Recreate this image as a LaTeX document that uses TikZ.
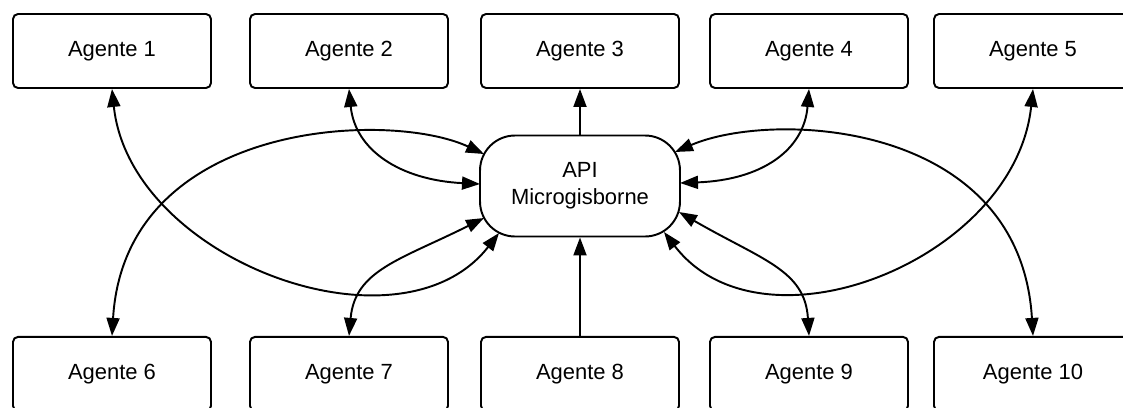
\documentclass[tikz,border=0pt]{standalone}
\usepackage{fontspec}
\setmainfont{Liberation Sans}
\usepackage{tikz}
\usetikzlibrary{arrows.meta, positioning}

\begin{document}
\begin{tikzpicture}[
    x=0.02cm, y=-0.02cm,
    node distance=4.94cm,
    every node/.style={font=\fontsize{12.5}{15.5}\selectfont},
    agent/.style={draw, line width=1.1pt, rounded corners=0.1cm, minimum width=3.96cm, minimum height=1.48cm, inner sep=0pt},
    api/.style={draw, line width=1.1pt, rounded corners=0.7cm, minimum width=4cm, minimum height=2.02cm, align=center, inner sep=0pt},
    arr/.style={-{Triangle[length=0.36cm, width=0.26cm]}, line width=1.1pt},
    darr/.style={{Triangle[length=0.36cm, width=0.26cm]}-{Triangle[length=0.36cm, width=0.26cm]}, line width=1.1pt}
]
\useasboundingbox (0,0) rectangle (1123,407);

\node[agent] (a1) at (112,51) {Agente 1};
\node[agent] (a2) at (349,51) {Agente 2};
\node[agent] (a3) at (580,51) {Agente 3};
\node[agent] (a4) at (809,51) {Agente 4};
\node[agent] (a5) at (1033,51) {Agente 5};
\node[agent, below=of a1] (a6) {Agente 6};
\node[agent, below=of a2] (a7) {Agente 7};
\node[agent, below=of a3] (a8) {Agente 8};
\node[agent, below=of a4] (a9) {Agente 9};
\node[agent, below=of a5] (a10) {Agente 10};
\node[api] (api) at (580,186) {API\\Microgisborne};

\draw[arr] (api) -- (a3);
\draw[arr] (a8) -- (api);

% left side
\draw[darr] (a1.south) .. controls (130,260) and (400,360) .. ([shift={(-81,47)}]api.center);
\draw[darr] (a6.north) .. controls (125,120) and (390,110) .. ([shift={(-96,-32)}]api.center);
\draw[darr] (a2.south) .. controls (355,150) and (400,180) .. ([shift={(-100,-2)}]api.center);
\draw[darr] (a7.north) .. controls (355,270) and (400,260) .. ([shift={(-96,32)}]api.center);

% right side
\draw[darr] (a5.south) .. controls (1015,260) and (762,360) .. ([shift={(84,46)}]api.center);
\draw[darr] (a10.north) .. controls (1020,120) and (772,110) .. ([shift={(95,-34)}]api.center);
\draw[darr] (a4.south) .. controls (804,150) and (762,180) .. ([shift={(100,-3)}]api.center);
\draw[darr] (a9.north) .. controls (805,270) and (762,260) .. ([shift={(99,26)}]api.center);
\end{tikzpicture}
\end{document}
